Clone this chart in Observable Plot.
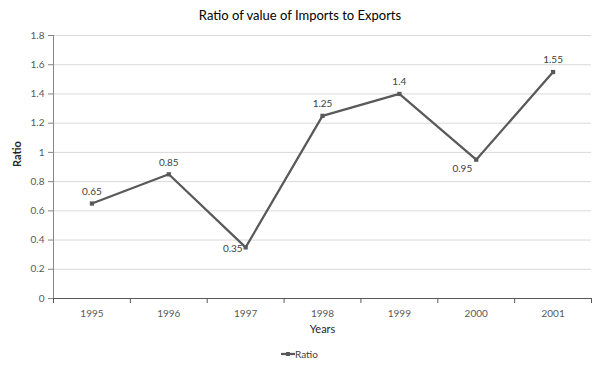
<!DOCTYPE html>
<html>
<head>
<meta charset="utf-8">
<script src="https://cdn.jsdelivr.net/npm/d3@7"></script>
<script src="https://cdn.jsdelivr.net/npm/@observablehq/plot@0.6"></script>
<style>
  body { margin: 0; background: #fff; }
  #wrap { position: relative; width: 600px; height: 371px; font-family: Lato, "Open Sans", sans-serif; }
  #title { position: absolute; top: 7px; left: 0; width: 600px; text-align: center; font-size: 13px; color: #000; }
  #legend { position: absolute; top: 348px; left: 281px; font-size: 10px; color: #404040; display: flex; align-items: center; }
  #chart { position: absolute; top: 0; left: 0; }
</style>
</head>
<body>
<div id="wrap">
  <div id="chart"></div>
  <div id="title">Ratio of value of Imports to Exports</div>
  <div id="legend"></div>
</div>
<script>
const years = [1995, 1996, 1997, 1998, 1999, 2000, 2001];
const ratio = [0.65, 0.85, 0.35, 1.25, 1.4, 0.95, 1.55];
const yTicks = [0, 0.2, 0.4, 0.6, 0.8, 1, 1.2, 1.4, 1.6, 1.8];
const seriesName = "Ratio";
const xLabel = "Years";
const yLabel = "Ratio";
// label placement: "above", "left", "belowLeft"
const labelPos = ["above", "above", "left", "above", "above", "belowLeft", "above"];

const data = years.map((y, i) => ({year: y, value: ratio[i], pos: labelPos[i]}));
const boundaries = [years[0] - 0.5, ...years.map(y => y + 0.5)];
const lineColor = "#595959";
const font = "Lato, 'Open Sans', sans-serif";

const chart = Plot.plot({
  width: 600,
  height: 340,
  marginTop: 35,
  marginBottom: 42,
  marginLeft: 53,
  marginRight: 9,
  style: {fontFamily: font, fontSize: "10px", color: "#595959", background: "white"},
  x: {type: "linear", domain: [boundaries[0], boundaries[boundaries.length - 1]]},
  y: {domain: [0, 1.8]},
  marks: [
    Plot.gridY(yTicks, {stroke: "#d9d9d9", strokeOpacity: 1}),
    Plot.axisY(yTicks, {tickSize: 5, tickFormat: d => String(d), stroke: "#868686", fill: "#595959", label: null, fontSize: 10}),
    Plot.ruleX([boundaries[0]], {stroke: "#868686"}),
    Plot.ruleY([0], {stroke: "#595959", strokeWidth: 1}),
    Plot.axisX(boundaries, {tickSize: 5, tickFormat: () => "", stroke: "#595959", label: null}),
    Plot.axisX(years, {tickSize: 0, tickPadding: 11, tickFormat: d => String(d), fill: "#595959", label: null}),
    Plot.text([yLabel], {frameAnchor: "left", dx: -36, rotate: -90, fontWeight: "bold", fontSize: 11, fill: "#262626"}),
    Plot.text([xLabel], {frameAnchor: "bottom", dy: 34, fontSize: 11, fill: "#262626"}),
    Plot.line(data, {x: "year", y: "value", stroke: lineColor, strokeWidth: 2.25}),
    Plot.dot(data, {x: "year", y: "value", symbol: "square", r: 2.4, fill: lineColor, stroke: null}),
    Plot.text(data.filter(d => d.pos === "above"), {x: "year", y: "value", text: d => String(d.value), dy: -12, fill: "#404040", fontSize: 10}),
    Plot.text(data.filter(d => d.pos === "left"), {x: "year", y: "value", text: d => String(d.value), dx: -3, dy: 1, textAnchor: "end", fill: "#404040", fontSize: 10}),
    Plot.text(data.filter(d => d.pos === "belowLeft"), {x: "year", y: "value", text: d => String(d.value), dx: -4, dy: 9, textAnchor: "end", fill: "#404040", fontSize: 10})
  ]
});
document.getElementById("chart").appendChild(chart);

// legend
const legend = d3.select("#legend");
const svgL = legend.append("svg").attr("width", 14).attr("height", 10);
svgL.append("line").attr("x1", 0).attr("x2", 14).attr("y1", 5).attr("y2", 5).attr("stroke", lineColor).attr("stroke-width", 2.25);
svgL.append("rect").attr("x", 5).attr("y", 3).attr("width", 4).attr("height", 4).attr("fill", lineColor);
legend.append("span").text(seriesName);
</script>
</body>
</html>
